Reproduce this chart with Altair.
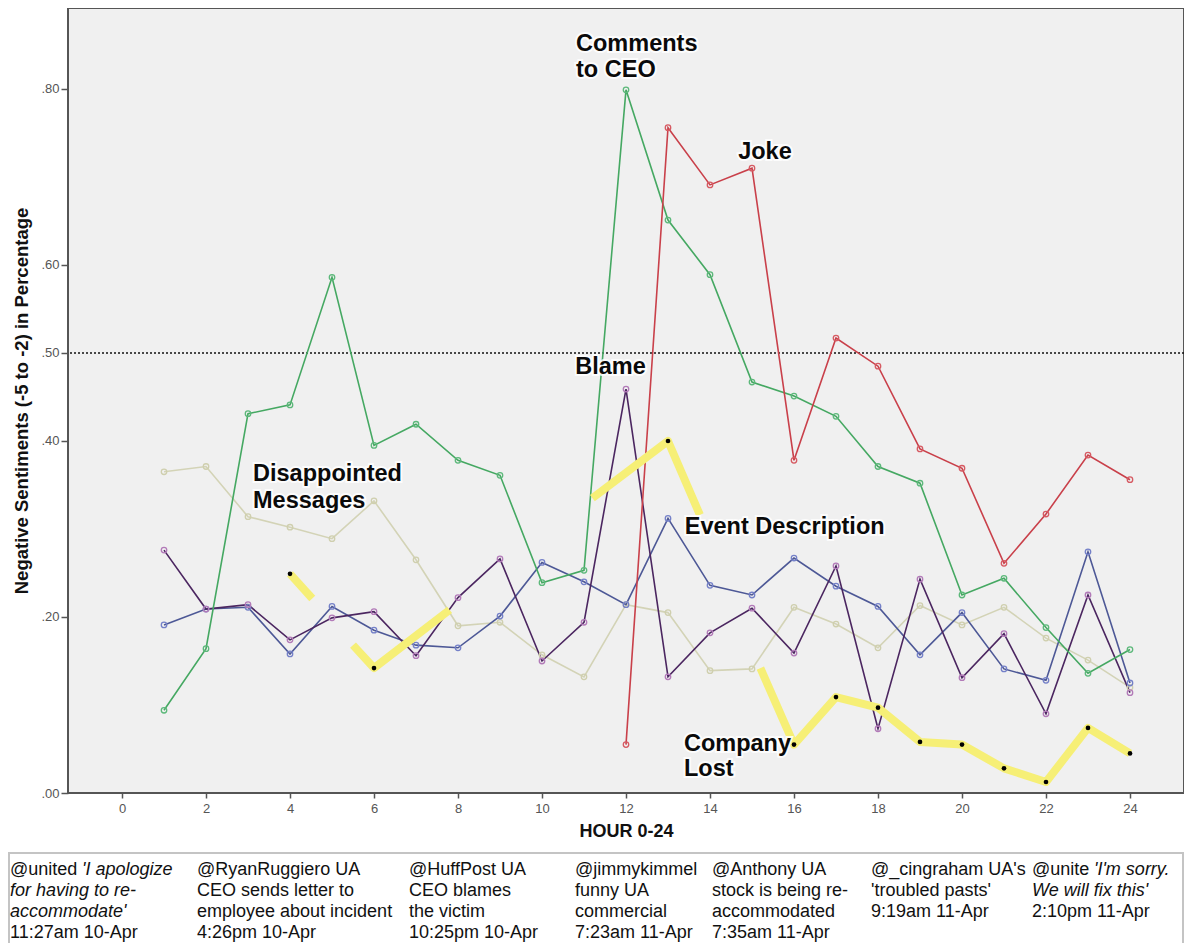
import altair as alt
import pandas as pd

# ---------------- data ----------------
hours = list(range(1, 25))
comments_to_ceo = [0.094, 0.164, 0.431, 0.441, 0.586, 0.395, 0.419, 0.378, 0.361, 0.239, 0.253, 0.799,
                   0.651, 0.589, 0.467, 0.451, 0.428, 0.371, 0.352, 0.225, 0.244, 0.188, 0.136, 0.163]
joke_hours = list(range(12, 25))
joke = [0.055, 0.756, 0.691, 0.710, 0.378, 0.517, 0.485, 0.391, 0.369, 0.261, 0.317, 0.384, 0.356]
event_description = [0.191, 0.209, 0.211, 0.158, 0.212, 0.185, 0.168, 0.165, 0.201, 0.262, 0.240, 0.214,
                     0.312, 0.236, 0.225, 0.267, 0.235, 0.212, 0.157, 0.205, 0.141, 0.128, 0.274, 0.125]
blame = [0.276, 0.209, 0.214, 0.174, 0.199, 0.206, 0.156, 0.222, 0.266, 0.150, 0.194, 0.459,
         0.132, 0.182, 0.210, 0.159, 0.258, 0.073, 0.243, 0.131, 0.181, 0.090, 0.225, 0.114]
disappointed = [0.365, 0.371, 0.314, 0.302, 0.289, 0.332, 0.265, 0.190, 0.194, 0.157, 0.132, 0.214,
                0.205, 0.139, 0.141, 0.211, 0.192, 0.165, 0.213, 0.191, 0.211, 0.176, 0.151, 0.120]

# highlighted (yellow) fragments: segment id, hour, value
hl_seg = ["a", "a", "b", "b", "b", "c", "c", "c",
          "d", "d", "d", "d", "d", "d", "d", "d", "d", "d"]
hl_hour = [4, 4.53, 5.5, 6, 7.8, 11.2, 13, 13.76,
           15.2, 16, 17, 18, 19, 20, 21, 22, 23, 24]
hl_value = [0.249, 0.221, 0.168, 0.142, 0.208, 0.335, 0.400, 0.316,
            0.142, 0.055, 0.109, 0.097, 0.058, 0.055, 0.028, 0.0125, 0.074, 0.045]

# annotation labels (anchored in data coordinates)
ann_text = ["Comments", "to CEO", "Joke", "Blame", "Disappointed", "Messages",
            "Event Description", "Company", "Lost"]
ann_hour = [10.81, 10.81, 14.67, 10.79, 3.12, 3.12, 13.40, 13.38, 13.38]
ann_value = [0.851, 0.822, 0.728, 0.484, 0.3625, 0.332, 0.302, 0.0557, 0.0273]

y_ticks = [0.0, 0.2, 0.4, 0.5, 0.6, 0.8]
x_ticks = list(range(0, 25, 2))

# tweet notes below the chart: column, line, text, style
note_col = [0, 0, 0, 0, 0,
            1, 1, 1, 1,
            2, 2, 2, 2,
            3, 3, 3, 3,
            4, 4, 4, 4,
            5, 5, 5,
            6, 6, 6, 6]
note_line = [0, 0, 1, 2, 3,
             0, 1, 2, 3,
             0, 1, 2, 3,
             0, 1, 2, 3,
             0, 1, 2, 3,
             0, 1, 2,
             0, 0, 1, 2]
note_text = ["@united ", "'I apologize", "for having to re-", "accommodate'", "11:27am 10-Apr",
             "@RyanRuggiero UA", "CEO sends letter to", "employee about incident", "4:26pm 10-Apr",
             "@HuffPost UA", "CEO blames", "the victim", "10:25pm 10-Apr",
             "@jimmykimmel", "funny UA", "commercial", "7:23am 11-Apr",
             "@Anthony UA", "stock is being re-", "accommodated", "7:35am 11-Apr",
             "@_cingraham UA's", "'troubled pasts'", "9:19am 11-Apr",
             "@unite ", "'I'm sorry.", "We will fix this'", "2:10pm 11-Apr"]
note_style = ["normal", "italic", "italic", "italic", "normal",
              "normal", "normal", "normal", "normal",
              "normal", "normal", "normal", "normal",
              "normal", "normal", "normal", "normal",
              "normal", "normal", "normal", "normal",
              "normal", "normal", "normal",
              "normal", "italic", "italic", "normal"]

# ---------------- layout / style constants ----------------
FONT = "Liberation Sans"
PLOT_W, PLOT_H = 1116, 785
PAD_LEFT = 60
col_left = [-58, 129, 341, 507, 644, 803, 964]      # px relative to plot left
frag_shift = {(0, 0): 72, (6, 0): 62}               # italic fragment following the handle
line_top = [862, 883, 904, 925]                     # px relative to plot top

series_names = ["Disappointed Messages", "Event Description", "Blame", "Comments to CEO", "Joke"]
line_colors = ["#d3d3b6", "#4d5896", "#4b2660", "#45a862", "#c9404a"]
marker_colors = ["#cfcfae", "#7480c8", "#b27ab8", "#5cb87a", "#d65a62"]

rows = []
for name, hs, vs in [("Disappointed Messages", hours, disappointed),
                     ("Event Description", hours, event_description),
                     ("Blame", hours, blame),
                     ("Comments to CEO", hours, comments_to_ceo),
                     ("Joke", joke_hours, joke)]:
    for h, v in zip(hs, vs):
        rows.append({"series": name, "hour": h, "value": v})
df = pd.DataFrame(rows)

hl = pd.DataFrame({"seg": hl_seg, "hour": hl_hour, "value": hl_value})
dots = hl[hl["hour"] == hl["hour"].round()]
ann = pd.DataFrame({"label": ann_text, "hour": ann_hour, "value": ann_value})

notes = []
for c, l, t, s in zip(note_col, note_line, note_text, note_style):
    shift = frag_shift.get((c, l), 0) if s == "italic" else 0
    notes.append({"px": col_left[c] + shift, "py": line_top[l], "text": t, "style": s})
notes = pd.DataFrame(notes)

xscale = alt.Scale(domain=[-1.286, 25.286], nice=False, zero=False)
yscale = alt.Scale(domain=[0, 0.892], nice=False, zero=False)

xaxis = alt.Axis(values=x_ticks, title="HOUR 0-24", grid=False, domain=False,
                 tickSize=5, tickColor="#555", tickWidth=1.5, labelFontSize=13,
                 labelColor="#555", labelFont=FONT, labelPadding=4,
                 titleFont=FONT, titleFontSize=18, titleFontWeight="bold",
                 titleColor="#111", titlePadding=7)
yaxis = alt.Axis(values=y_ticks, title="Negative Sentiments (-5 to -2) in Percentage",
                 grid=False, domain=False, tickSize=7, tickColor="#555", tickWidth=1.5,
                 labelExpr="substring(format(datum.value, '.2f'), 1)",
                 labelFontSize=13, labelColor="#555", labelFont=FONT, labelPadding=2,
                 titleFont=FONT, titleFontSize=18.5, titleFontWeight="bold",
                 titleColor="#111", titlePadding=9)

base = alt.Chart(df)

ref = alt.Chart(pd.DataFrame({"y": [0.5]})).mark_rule(
    color="#111", strokeDash=[2, 2], strokeWidth=1.3
).encode(y=alt.Y("y:Q", scale=yscale, axis=yaxis))

lines = base.mark_line(strokeWidth=1.6).encode(
    x=alt.X("hour:Q", scale=xscale, axis=xaxis),
    y=alt.Y("value:Q", scale=yscale, axis=yaxis),
    color=alt.Color("series:N", scale=alt.Scale(domain=series_names, range=line_colors), legend=None),
    detail="series:N",
)

points = base.mark_point(filled=False, size=30, strokeWidth=1.3, opacity=1).encode(
    x=alt.X("hour:Q", scale=xscale),
    y=alt.Y("value:Q", scale=yscale),
    color=alt.Color("series:N", scale=alt.Scale(domain=series_names, range=marker_colors), legend=None),
)

yellow = alt.Chart(hl).mark_line(color="#f6ef76", strokeWidth=8, strokeCap="butt",
                                 strokeJoin="round").encode(
    x=alt.X("hour:Q", scale=xscale),
    y=alt.Y("value:Q", scale=yscale),
    detail="seg:N",
)

blackdots = alt.Chart(dots).mark_circle(color="#000", size=22, opacity=1).encode(
    x=alt.X("hour:Q", scale=xscale),
    y=alt.Y("value:Q", scale=yscale),
)

halo = alt.Chart(ann).mark_text(
    align="left", baseline="middle", font=FONT, fontSize=23.5, fontWeight="bold",
    stroke="white", strokeWidth=4, strokeOpacity=0.85, color="white"
).encode(x=alt.X("hour:Q", scale=xscale), y=alt.Y("value:Q", scale=yscale), text="label:N")

labels = alt.Chart(ann).mark_text(
    align="left", baseline="middle", font=FONT, fontSize=23.5, fontWeight="bold", color="#0a0a0a"
).encode(x=alt.X("hour:Q", scale=xscale), y=alt.Y("value:Q", scale=yscale), text="label:N")

box = alt.Chart(pd.DataFrame({"k": [0]})).mark_rect(
    fillOpacity=0, stroke="#c4c4c4", strokeWidth=2
).encode(x=alt.value(-59), x2=alt.value(1115), y=alt.value(845), y2=alt.value(980))

note_normal = alt.Chart(notes).transform_filter(alt.datum.style == "normal").mark_text(
    align="left", baseline="middle", font=FONT, fontSize=18, color="#111"
).encode(x=alt.X("px:Q", scale=None), y=alt.Y("py:Q", scale=None), text="text:N")

note_italic = alt.Chart(notes).transform_filter(alt.datum.style == "italic").mark_text(
    align="left", baseline="middle", font=FONT, fontSize=18, fontStyle="italic", color="#111"
).encode(x=alt.X("px:Q", scale=None), y=alt.Y("py:Q", scale=None), text="text:N")

chart = alt.layer(
    ref, lines, points, yellow, blackdots, halo, labels, box, note_normal, note_italic
).resolve_scale(color="independent").properties(
    width=PLOT_W, height=PLOT_H,
    autosize=alt.AutoSizeParams(type="none"),
    padding={"left": PAD_LEFT, "top": 0, "right": 0, "bottom": 150},
    background="white",
).configure_view(fill="#f0f0f0", stroke="#555", strokeWidth=2)

chart.save("out.html", embed_options={"renderer": "svg", "actions": False})
